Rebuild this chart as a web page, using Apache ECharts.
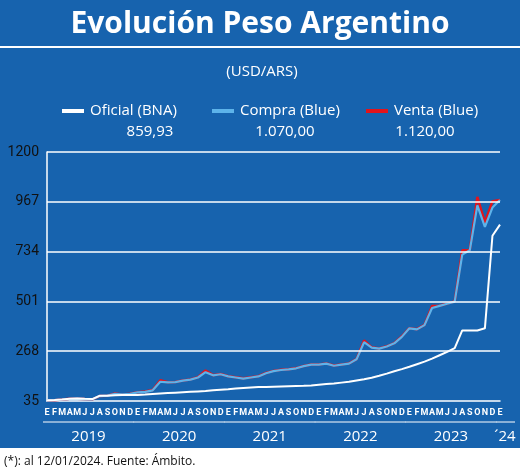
<!DOCTYPE html>
<html><head><meta charset="utf-8">
<script src="https://cdn.jsdelivr.net/npm/echarts@6/dist/echarts.min.js"></script>
<style>html,body{margin:0;padding:0;background:#fff}#c{width:520px;height:473px}</style>
</head><body><div id="c"></div>
<script>
const monthLetters = ['E','F','M','A','M','J','J','A','S','O','N','D'];
const years = ['2019','2020','2021','2022','2023','´24'];
const oficial = [39,40,42,45,47,45,44,60,59,62,63,63, 63,65,68,70,72,74,76,78,80,82,85,88, 90,93,96,98,100,101,102,103,104,105,106,108, 111,114,117,121,125,131,137,144,153,163,174,184, 195,207,219,233,249,265,282,365,365,365,375,808, 860];
const compra = [38,39,42,45,46,44,43,58,60,68,66,68, 75,78,85,125,122,123,130,135,145,170,155,160, 150,145,140,145,150,165,175,180,183,188,198,205, 205,210,200,205,210,230,310,285,280,290,305,335, 375,370,390,470,480,490,500,720,740,950,850,940, 975];
const venta = [38,39,42,45,46,44,43,58,60,70,66,69, 76,79,86,132,123,124,131,136,146,178,156,161, 151,146,141,146,151,166,176,181,184,189,199,206, 206,211,201,206,211,231,318,286,281,291,306,338, 376,371,391,480,481,491,501,740,741,990,870,970, 976];
const legendNames = ['Oficial (BNA)','Compra (Blue)','Venta (Blue)'];
const legendValues = ['859,93','1.070,00','1.120,00'];
const gridValues = [268,501,734,967,1200];
const yLabels = [35,268,501,734,967,1200];

const cats = [];
for (let y=0;y<5;y++) for (let m=0;m<12;m++) cats.push(monthLetters[m]+'_'+y+'_'+m);
cats.push('E_5_0');

const chart = echarts.init(document.getElementById('c'));
const BG = '#1763ae';
chart.setOption({
  backgroundColor:'#fff',
  animation:false,
  grid:{left:47,right:20,top:152,bottom:72},
  xAxis:{type:'category',data:cats,boundaryGap:false,
    axisLine:{lineStyle:{color:'#fff',width:1.5}},axisTick:{show:false},
    axisLabel:{interval:0,color:'#fff',fontFamily:'Roboto',fontSize:9,fontWeight:'bold',margin:7,
      formatter:v=>v.split('_')[0]}},
  yAxis:{type:'value',min:35,max:1200,splitLine:{show:false},
    axisLine:{show:true,lineStyle:{color:'#fff',width:1.5}},axisTick:{show:false},
    axisLabel:{customValues:yLabels,color:'#111',fontSize:14,fontFamily:'Roboto',margin:8,formatter:v=>String(v)}},
  series:[
    {type:'line',data:venta,symbol:'none',lineStyle:{color:'#e3141b',width:2.5},z:3,
     markLine:{silent:true,symbol:'none',label:{show:false},lineStyle:{color:'#fff',type:'solid',width:1.5},
       data:gridValues.map(v=>({yAxis:v}))}},
    {type:'line',data:compra,symbol:'none',lineStyle:{color:'#5db3ea',width:2.2},z:4},
    {type:'line',data:oficial,symbol:'none',lineStyle:{color:'#fff',width:2},z:5}
  ]
});

const g = [
  {type:'rect',shape:{x:0,y:0,width:520,height:448},style:{fill:BG},z:-10},
  {type:'rect',shape:{x:0,y:46,width:520,height:2},style:{fill:'#fff'},z:-9},
  {type:'text',x:260,y:24,style:{text:'Evolución Peso Argentino',fill:'#fff',font:'bold 30px "Open Sans"',align:'center',verticalAlign:'middle'}},
  {type:'text',x:262,y:72,style:{text:'(USD/ARS)',fill:'#fff',font:'15px "Open Sans"',align:'center',verticalAlign:'middle'}},
  {type:'text',x:4,y:462,style:{text:'(*): al 12/01/2024. Fuente: Ámbito.',fill:'#111',font:'12px "Open Sans"',verticalAlign:'middle'}}
];
const legX=[62,212,366], legCol=['#fff','#5db3ea','#e3141b'], valX=[150,285,425];
for(let i=0;i<3;i++){
  g.push({type:'line',shape:{x1:legX[i],y1:111,x2:legX[i]+22,y2:111},style:{stroke:legCol[i],lineWidth:4}});
  g.push({type:'text',x:legX[i]+28,y:111,style:{text:legendNames[i],fill:'#fff',font:'15px "Open Sans"',verticalAlign:'middle'}});
  g.push({type:'text',x:valX[i],y:132,style:{text:legendValues[i],fill:'#fff',font:'15px "Open Sans"',align:'center',verticalAlign:'middle'}});
}
for(let y=0;y<6;y++){
  const s=chart.convertToPixel({xAxisIndex:0},cats[y*12])-4;
  const e= y<5 ? chart.convertToPixel({xAxisIndex:0},cats[y*12+11])+4 : 515;
  g.push({type:'line',shape:{x1:s,y1:422,x2:e,y2:422},style:{stroke:'#fff',lineWidth:1}});
  g.push({type:'text',x:y<5?(s+e)/2:505,y:437,style:{text:years[y],fill:'#fff',font:'15px "Open Sans"',align:'center',verticalAlign:'middle'}});
}
chart.setOption({graphic:g});
</script></body></html>
